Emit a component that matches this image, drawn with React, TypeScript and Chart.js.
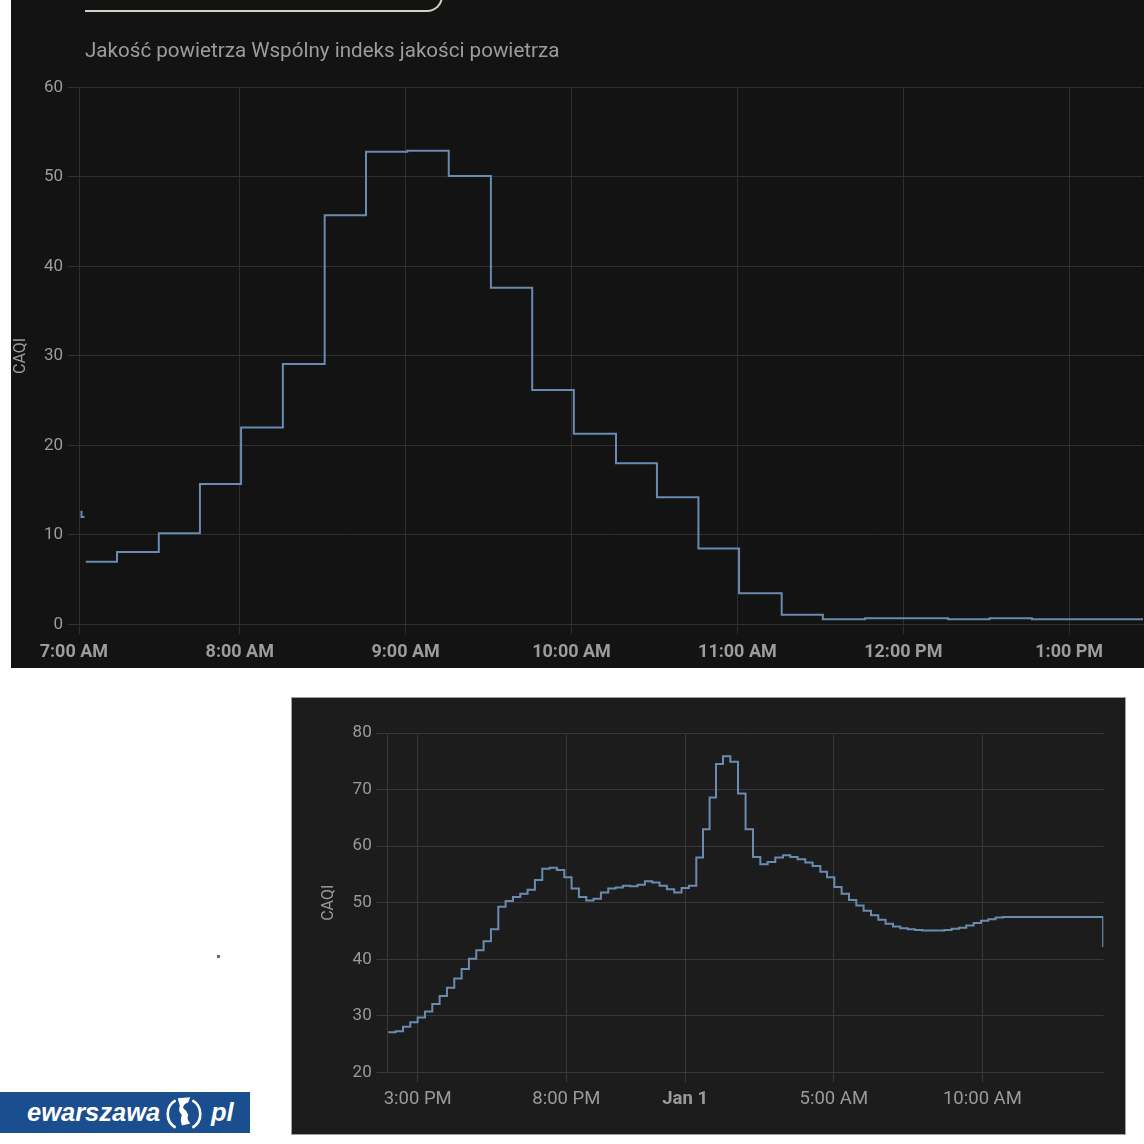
import React, { useEffect, useRef } from "react";
import { Chart, registerables } from "chart.js";

Chart.register(...registerables);
Chart.defaults.font.family = "Roboto";

// ---------- Top chart data (hours of day) ----------
const topFragmentTimes = [7.04, 7.046, 7.064];
const topFragmentValues = [12.6, 12.0, 12.0];
const topTimes = [
  7.072, 7.26, 7.512, 7.76, 8.008, 8.26, 8.512, 8.761, 9.01, 9.26, 9.514, 9.763,
  10.014, 10.268, 10.515, 10.765, 11.01, 11.267, 11.515, 11.77, 12.27, 12.52, 12.775, 13.445,
];
const topValues = [
  7.0, 8.1, 10.2, 15.7, 22.0, 29.1, 45.7, 52.8, 52.9, 50.1, 37.6, 26.2,
  21.3, 18.0, 14.2, 8.5, 3.5, 1.1, 0.6, 0.7, 0.6, 0.7, 0.6, 0.6,
];
const topXMin = 7.031;
const topXMax = 13.445;
const topXTickValues = [7, 7.031, 8, 9, 10, 11, 12, 13];
const topXTickLabels = ["7:00 AM", "", "8:00 AM", "9:00 AM", "10:00 AM", "11:00 AM", "12:00 PM", "1:00 PM"];
const topHiddenGridTick = 7;
const topYMin = 0;
const topYMax = 60;
const topYStep = 10;
const topTitle = "Jakość powietrza Wspólny indeks jakości powietrza";

// ---------- Bottom chart data (hours since 0:00 Dec 31; >24 = Jan 1) ----------
const bottomTimes = [
  14.01, 14.257, 14.504, 14.75, 14.997, 15.244, 15.49, 15.737, 15.984, 16.23,
  16.477, 16.724, 16.97, 17.217, 17.464, 17.711, 17.957, 18.204, 18.451, 18.697,
  18.944, 19.191, 19.437, 19.684, 19.931, 20.177, 20.424, 20.671, 20.917, 21.164,
  21.411, 21.658, 21.904, 22.151, 22.398, 22.644, 22.891, 23.138, 23.384, 23.631,
  23.878, 24.124, 24.373, 24.599, 24.821, 25.036, 25.272, 25.518, 25.777, 26.032,
  26.281, 26.527, 26.773, 27.032, 27.291, 27.536, 27.782, 28.041, 28.287, 28.546,
  28.771, 29.017, 29.262, 29.511, 29.757, 30.003, 30.252, 30.497, 30.743, 30.992,
  31.238, 31.483, 31.732, 31.978, 32.223, 32.472, 32.718, 32.964, 33.213, 33.458,
  33.704, 33.953, 34.198, 34.444, 34.693, 38.062,
];
const bottomValues = [
  27.1, 27.3, 28.1, 28.9, 29.7, 30.8, 32.1, 33.5, 35.0, 36.6,
  38.3, 40.1, 41.6, 43.2, 45.3, 49.3, 50.3, 51.0, 51.6, 52.3,
  54.0, 56.0, 56.2, 55.8, 54.5, 52.5, 51.0, 50.4, 50.7, 51.8,
  52.5, 52.7, 53.0, 52.9, 53.2, 53.8, 53.6, 53.0, 52.4, 51.8,
  52.6, 53.0, 58.0, 63.0, 68.6, 74.5, 75.9, 74.9, 69.3, 63.0,
  58.1, 56.8, 57.2, 58.0, 58.4, 58.1, 57.7, 57.1, 56.5, 55.5,
  54.5, 52.8, 51.6, 50.5, 49.5, 48.6, 47.8, 47.0, 46.3, 45.8,
  45.5, 45.3, 45.2, 45.1, 45.1, 45.1, 45.2, 45.4, 45.6, 46.0,
  46.4, 46.8, 47.1, 47.4, 47.5, 42.2,
];
const bottomXMin = 13.99;
const bottomXMax = 38.068;
const bottomXTickValues = [15, 20, 24, 29, 34];
const bottomXTickLabels = ["3:00 PM", "8:00 PM", "Jan 1", "5:00 AM", "10:00 AM"];
const bottomBoldTick = 24;
const bottomYMin = 20;
const bottomYMax = 80;
const bottomYStep = 10;

const yAxisTitle = "CAQI";
const lineColor = "#6a8ab0";

type PanelOpts = {
  times: number[];
  values: number[];
  extra?: { times: number[]; values: number[] };
  xMin: number;
  xMax: number;
  xTicks: number[];
  xLabels: string[];
  hiddenGridTick?: number;
  boldTick?: number;
  yMin: number;
  yMax: number;
  yStep: number;
  gridColor: string;
  textColor: string;
  yWidth: number;
  xHeight: number;
  padTop: number;
  padRight: number;
  titlePad: number;
  xFont: { size: number; weight: string };
  yFontSize: number;
  xTickPad: number;
};

function ChartPanel(props: { w: number; h: number; opts: PanelOpts }) {
  const ref = useRef<HTMLCanvasElement | null>(null);
  useEffect(() => {
    const o = props.opts;
    if (!ref.current) return;
    const mainData = o.times.map((t, i) => ({ x: t, y: o.values[i] }));
    let data: any[] = mainData;
    if (o.extra) {
      const ex = o.extra.times.map((t, i) => ({ x: t, y: o.extra!.values[i] }));
      data = [...ex, { x: (ex[ex.length - 1].x + mainData[0].x) / 2, y: null }, ...mainData];
    }
    const chart = new Chart(ref.current, {
      type: "line",
      data: {
        datasets: [
          {
            data,
            stepped: "before",
            borderColor: lineColor,
            borderWidth: 2,
            pointRadius: 0,
            fill: false,
            spanGaps: false,
          },
        ],
      },
      options: {
        animation: false,
        responsive: false,
        devicePixelRatio: 1,
        parsing: false as any,
        layout: { padding: { top: o.padTop, right: o.padRight, left: 0, bottom: 0 } },
        plugins: { legend: { display: false }, tooltip: { enabled: false }, title: { display: false } },
        scales: {
          x: {
            type: "linear",
            min: o.xMin,
            max: o.xMax,
            afterBuildTicks: (s: any) => {
              s.ticks = o.xTicks.map((v) => ({ value: v }));
            },
            afterFit: (s: any) => {
              s.height = o.xHeight;
            },
            grid: {
              color: (ctx: any) =>
                o.hiddenGridTick !== undefined && ctx.tick && ctx.tick.value === o.hiddenGridTick
                  ? "rgba(0,0,0,0)"
                  : o.gridColor,
              tickLength: 10,
              lineWidth: 1,
            },
            border: { color: o.gridColor },
            ticks: {
              autoSkip: false,
              maxRotation: 0,
              padding: o.xTickPad,
              color: o.textColor,
              font: (ctx: any) => ({
                size: o.xFont.size,
                weight: o.boldTick !== undefined && ctx.tick && ctx.tick.value === o.boldTick ? "bold" : o.xFont.weight,
              }),
              callback: (_v: any, i: number) => o.xLabels[i],
            },
          },
          y: {
            min: o.yMin,
            max: o.yMax,
            afterFit: (s: any) => {
              s.width = o.yWidth;
            },
            grid: { color: o.gridColor, tickLength: 11, lineWidth: 1 },
            border: { color: o.gridColor },
            ticks: { stepSize: o.yStep, padding: 5, color: o.textColor, font: { size: o.yFontSize } },
            title: {
              display: true,
              text: yAxisTitle,
              color: o.textColor,
              font: { size: 16 },
              padding: { top: o.titlePad, bottom: 0 },
            },
          },
        },
      },
    });
    return () => chart.destroy();
  }, []);
  return <canvas ref={ref} width={props.w} height={props.h} style={{ width: props.w, height: props.h, display: "block" }} />;
}

export default function App() {
  const topOpts: PanelOpts = {
    times: topTimes,
    values: topValues,
    extra: { times: topFragmentTimes, values: topFragmentValues },
    xMin: topXMin,
    xMax: topXMax,
    xTicks: topXTickValues,
    xLabels: topXTickLabels,
    hiddenGridTick: topHiddenGridTick,
    yMin: topYMin,
    yMax: topYMax,
    yStep: topYStep,
    gridColor: "#2e2e2e",
    textColor: "#9c9c9c",
    yWidth: 68,
    xHeight: 43.5,
    padTop: 87.3,
    padRight: 1,
    titlePad: 0,
    xFont: { size: 18, weight: "bold" },
    yFontSize: 17,
    xTickPad: 7,
  };
  const bottomOpts: PanelOpts = {
    times: bottomTimes,
    values: bottomValues,
    xMin: bottomXMin,
    xMax: bottomXMax,
    xTicks: bottomXTickValues,
    xLabels: bottomXTickLabels,
    boldTick: bottomBoldTick,
    yMin: bottomYMin,
    yMax: bottomYMax,
    yStep: bottomYStep,
    gridColor: "#383838",
    textColor: "#9a9a9a",
    yWidth: 95.7,
    xHeight: 61.5,
    padTop: 35,
    padRight: 21.7,
    titlePad: 27,
    xFont: { size: 18.5, weight: "normal" },
    yFontSize: 17,
    xTickPad: 6,
  };
  return (
    <div style={{ position: "absolute", left: 0, top: 0, width: 1144, height: 1144, overflow: "hidden", background: "#ffffff" }}>
      {/* top panel */}
      <div style={{ position: "absolute", left: 11, top: 0, width: 1133, height: 668, background: "#131313", overflow: "hidden" }}>
        <div style={{ position: "absolute", left: 0, top: 0 }}>
          <ChartPanel w={1133} h={668} opts={topOpts} />
        </div>
        <div
          style={{
            position: "absolute",
            left: 74,
            top: -40,
            width: 356,
            height: 50,
            borderBottom: "2px solid #d2d2c2",
            borderRight: "2px solid #d2d2c2",
            borderBottomRightRadius: 16,
          }}
        />
        <div
          style={{
            position: "absolute",
            left: 74,
            top: 37,
            fontFamily: "Roboto",
            fontSize: 20.6,
            lineHeight: "26px",
            color: "#9c9c9c",
            whiteSpace: "nowrap",
          }}
        >
          {topTitle}
        </div>
      </div>
      {/* bottom panel */}
      <div
        style={{
          position: "absolute",
          left: 291,
          top: 697,
          width: 833,
          height: 436,
          border: "1px solid #a0a0a0",
          background: "#1c1c1c",
        }}
      >
        <ChartPanel w={833} h={436} opts={bottomOpts} />
      </div>
      {/* tiny dot */}
      <div style={{ position: "absolute", left: 217, top: 955, width: 3, height: 3, background: "#6a6a6a" }} />
      {/* logo */}
      <div
        style={{
          position: "absolute",
          left: 0,
          top: 1092,
          width: 250,
          height: 41,
          background: "#1b4e8e",
        }}
      >
        <span
          style={{
            position: "absolute",
            left: 27,
            top: 5,
            fontFamily: "Liberation Sans",
            fontStyle: "italic",
            fontWeight: "bold",
            fontSize: 25.5,
            lineHeight: "30px",
            color: "#ffffff",
          }}
        >
          ewarszawa
        </span>
        <svg style={{ position: "absolute", left: 163, top: 2 }} width="42" height="38" viewBox="0 0 40 36">
          <path d="M12 6 A15 15 0 0 0 12 32" stroke="#ffffff" strokeWidth="2.5" fill="none" />
          <path d="M28 6 A15 15 0 0 1 28 32" stroke="#ffffff" strokeWidth="2.5" fill="none" />
          <path d="M14 4 L26 3 L24 8 Q20 9 19 13 Q22 15 24 20 Q22 24 26 28 L18 30 Q16 24 18 20 Q14 16 16 11 Z" fill="#ffffff" />
        </svg>
        <span
          style={{
            position: "absolute",
            left: 211,
            top: 5,
            fontFamily: "Liberation Sans",
            fontStyle: "italic",
            fontWeight: "bold",
            fontSize: 25.5,
            lineHeight: "30px",
            color: "#ffffff",
          }}
        >
          pl
        </span>
      </div>
    </div>
  );
}
